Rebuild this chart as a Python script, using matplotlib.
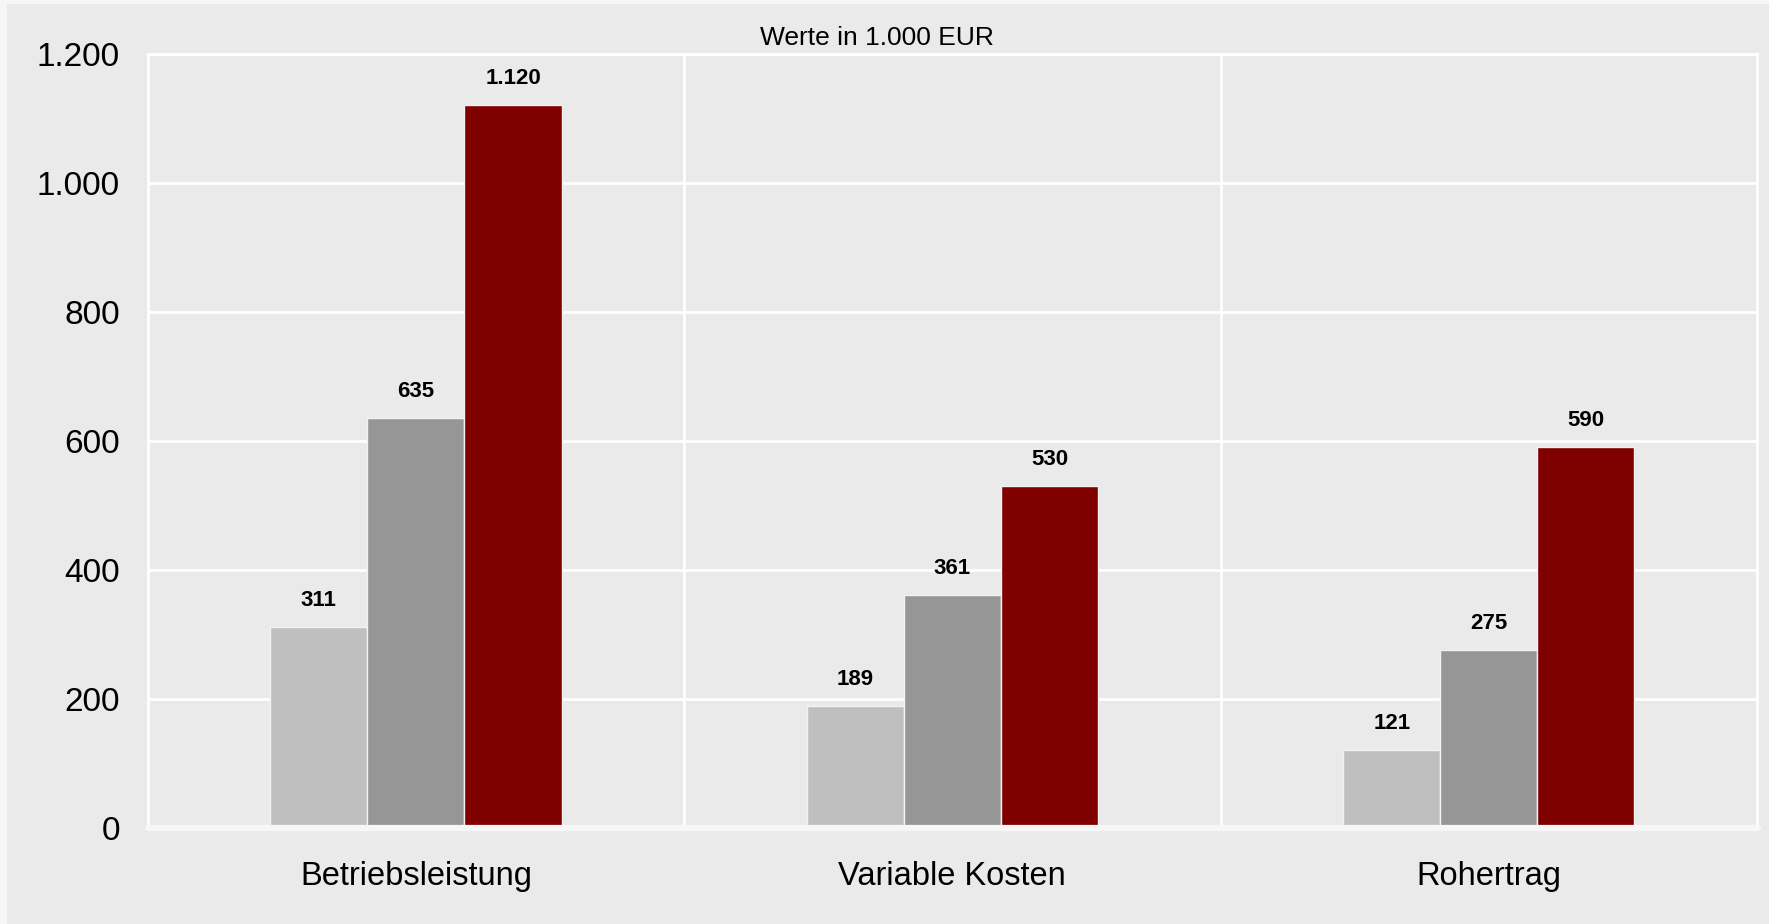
import matplotlib
matplotlib.use("Agg")
import matplotlib.pyplot as plt
from matplotlib.patches import Rectangle
import numpy as np

categories = ["Betriebsleistung", "Variable Kosten", "Rohertrag"]
series_1 = [311, 189, 121]
series_2 = [635, 361, 275]
series_3 = [1120, 530, 590]
y_ticks = [0, 200, 400, 600, 800, 1000, 1200]
y_tick_labels = ["0", "200", "400", "600", "800", "1.000", "1.200"]
title = "Werte in 1.000 EUR"

colors = ["#bfbfbf", "#969696", "#800000"]
bg = "#e9eae9"

plt.rcParams['font.family'] = ['Liberation Sans', 'DejaVu Sans']

W, H = 1769, 924
fig = plt.figure(figsize=(W / 100, H / 100), dpi=100)
fig.patch.set_facecolor("#f6f6f6")
fig.patches.append(Rectangle((7 / W, 0), 1, (H - 4) / H, transform=fig.transFigure,
                             facecolor=bg, edgecolor="none", zorder=-10))

ax = fig.add_axes([147.7 / W, (H - 827.7) / H, (1757 - 147.7) / W, (827.7 - 53.7) / H])
ax.set_zorder(1)
ax.set_facecolor(bg)

x = np.arange(len(categories))
bw = 0.181
for i, vals in enumerate([series_1, series_2, series_3]):
    bars = ax.bar(x + (i - 1) * bw, vals, width=bw, color=colors[i],
                  edgecolor="#f2f2f2", linewidth=1.0, zorder=3)
    for xi, v in zip(x + (i - 1) * bw, vals):
        lbl = f"{v:,}".replace(",", ".")
        ax.annotate(lbl, (xi, v), xytext=(0, 15), textcoords="offset points",
                    ha="center", va="baseline", fontsize=16, fontweight="bold",
                    color="black", zorder=4)

ax.set_xlim(-0.5, 2.5)
ax.set_ylim(0, 1200)
ax.set_yticks(y_ticks)
ax.set_yticklabels(y_tick_labels, fontsize=24)
ax.set_xticks(x)
ax.set_xticklabels(categories, fontsize=23.5)
ax.set_xticks([0.5, 1.5], minor=True)
ax.tick_params(axis="both", which="both", length=0)
ax.tick_params(axis="y", pad=20)
ax.tick_params(axis="x", pad=24)

ax.yaxis.grid(True, color="white", linewidth=2, zorder=1)
ax.xaxis.grid(True, which="minor", color="white", linewidth=2, zorder=1)
ax.xaxis.grid(False, which="major")
ax.set_axisbelow(True)

for s in ["left", "right", "top"]:
    ax.spines[s].set_color("white")
    ax.spines[s].set_linewidth(2)
ax.spines["bottom"].set_visible(False)
ax.plot([-0.5, 2.502], [0, 0], color="#f7f7f7", linewidth=4.5,
        solid_capstyle="round", clip_on=False, zorder=5)

fig.text(877 / W, (H - 45) / H, title, ha="center", va="baseline", fontsize=19)

fig.savefig("out.png", dpi=100, facecolor=fig.get_facecolor())
